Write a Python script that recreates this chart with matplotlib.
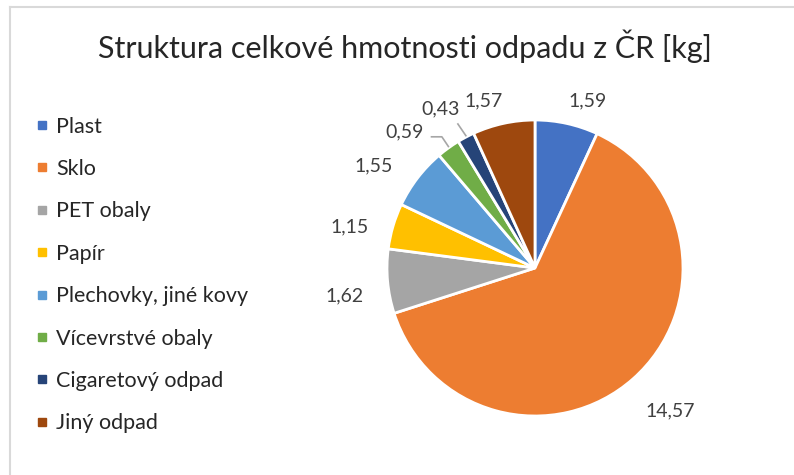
import numpy as np
import matplotlib.pyplot as plt
from matplotlib.lines import Line2D

labels = ["Plast", "Sklo", "PET obaly", "Papír", "Plechovky, jiné kovy",
          "Vícevrstvé obaly", "Cigaretový odpad", "Jiný odpad"]
values = [1.59, 14.57, 1.62, 1.15, 1.55, 0.59, 0.43, 1.57]
colors = ["#4472C4", "#ED7D31", "#A5A5A5", "#FFC000", "#5B9BD5",
          "#70AD47", "#264478", "#9E480E"]

# label placement (radius factor, angle nudge in degrees), Excel "best fit" look
label_dist = [1.18, 1.33, 1.30, 1.28, 1.29, 1.27, 1.25, 1.18]
label_nudge = [-5, 2, 3, 4, 5, 8, 3, 5]
leader = [False, False, False, False, False, True, True, False]

plt.rcParams['font.family'] = ['Lato', 'DejaVu Sans']

fig = plt.figure(figsize=(7.94, 4.75), dpi=100)
fig.patch.set_facecolor("white")

# chart frame (only top/left edges visible in the crop)
fig.add_artist(Line2D([10/794, 10/794], [0, 1 - 7/475], transform=fig.transFigure,
                      color="#d9d9d9", lw=1.5))
fig.add_artist(Line2D([10/794, 1], [1 - 7/475, 1 - 7/475], transform=fig.transFigure,
                      color="#d9d9d9", lw=1.5))

fig.text(405/794, 1 - 46/475, "Struktura celkové hmotnosti odpadu z ČR [kg]",
         ha="center", va="center", fontsize=22, color="#262626")

ax = fig.add_axes([(535 - 148)/794, (475 - 268 - 148)/475, 296/794, 296/475])
wedges, _ = ax.pie(values, colors=colors, startangle=90, counterclock=False,
                   wedgeprops=dict(edgecolor="white", linewidth=2))
ax.set_xlim(-1, 1)
ax.set_ylim(-1, 1)
ax.set_aspect("equal")

for w, v, d, n, ld in zip(wedges, values, label_dist, label_nudge, leader):
    mid = np.deg2rad((w.theta1 + w.theta2) / 2)
    ang = mid + np.deg2rad(n)
    tx, ty = d * np.cos(ang), d * np.sin(ang)
    txt = f"{v:.2f}".replace(".", ",")
    ax.text(tx, ty, txt, ha="center", va="center", fontsize=14,
            color="#404040", clip_on=False)
    if ld:
        ex, ey = np.cos(mid), np.sin(mid)
        if ex < -0.5:
            xs = [tx + 0.18, tx + 0.25, ex]
            ys = [ty - 0.03, ty - 0.03, ey + 0.01]
        else:
            xs = [tx + 0.12, ex]
            ys = [ty - 0.1, ey + 0.01]
        ax.plot(xs, ys, color="#a6a6a6", lw=1.2, clip_on=False)

handles = [Line2D([], [], marker="s", linestyle="none", markersize=6,
                  markerfacecolor=c, markeredgecolor=c) for c in colors]
fig.legend(handles, labels, loc="upper left", bbox_to_anchor=(26/794, 1 - 108/475),
           frameon=False, fontsize=15.5, labelspacing=1.04, handlelength=0.7,
           handletextpad=0.3, labelcolor="#262626", borderaxespad=0)

fig.savefig("out.png", dpi=100)
